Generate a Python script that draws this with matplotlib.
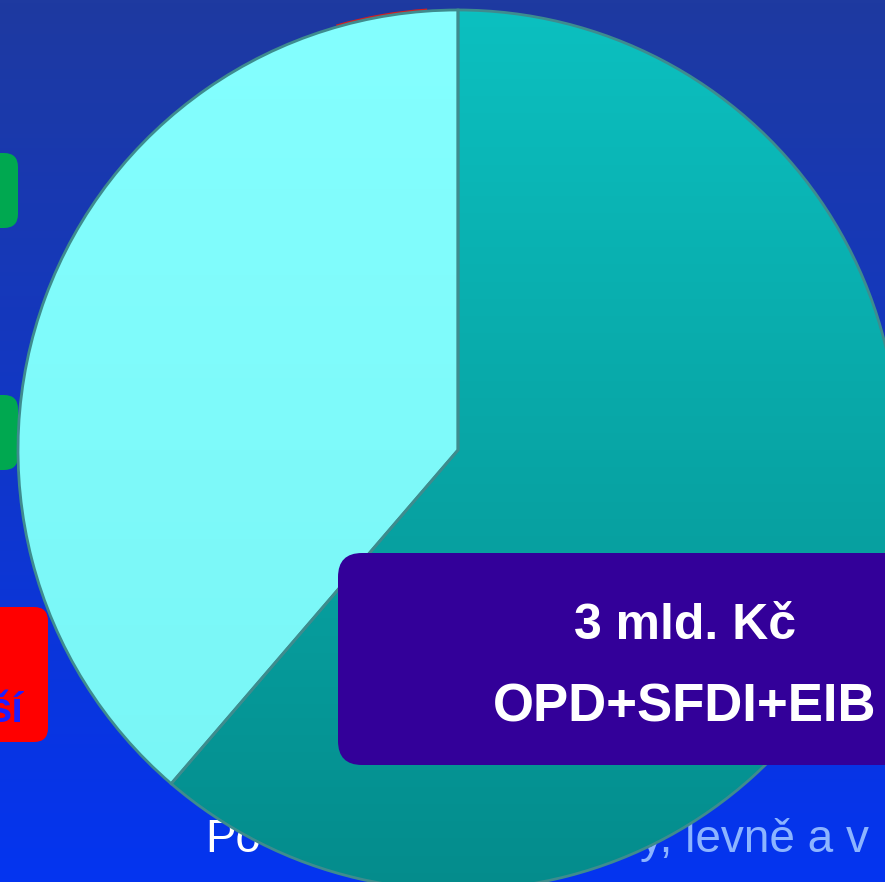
import numpy as np
import matplotlib
matplotlib.use("Agg")
from matplotlib import pyplot as plt
from matplotlib.patches import FancyBboxPatch, Arc

# pie data (shares of total funding)
shares = [61.3, 38.7]
slice_colors = ["#0AB0B0", "#80FFFF"]

label_lines = ["3 mld. Kč", "OPD+SFDI+EIB"]
footer_left = "Po"
footer_right = "y, levně a v"
side_text = "ší"

W, H = 885, 882

fig = plt.figure(figsize=(W / 100, H / 100), dpi=100)
ax = fig.add_axes([0, 0, 1, 1])

# -------------------------------
# BACKGROUND GRADIENT
# -------------------------------
top = np.array([30, 58, 160]) / 255
bottom = np.array([4, 52, 240]) / 255
t = np.linspace(0, 1, 256)[:, None]
grad = top + (bottom - top) * t
ax.imshow(grad[:, None, :].repeat(2, axis=1), extent=(0, W, 0, H),
          aspect="auto", zorder=0, origin="upper")

# -------------------------------
# SIDE BOXES (cut off at left edge)
# -------------------------------
for y0, y1, col in [(153, 228, "#00A850"), (395, 470, "#00A850"), (607, 742, "#FF0000")]:
    x1 = 18 if col != "#FF0000" else 48
    box = FancyBboxPatch((-40, H - y1), x1 + 40, y1 - y0,
                         boxstyle="round,pad=0,rounding_size=14",
                         facecolor=col, edgecolor="none", zorder=1)
    ax.add_patch(box)

ax.text(23, H - 722, side_text, color="#1E1EFF", fontsize=30, fontweight="bold",
        family="Liberation Sans", ha="right", va="baseline", zorder=1.5)

# footer text sits behind the pie
ax.text(205, H - 852, footer_left, color="white", fontsize=33,
        family="Liberation Sans", ha="left", va="baseline", zorder=1.5)
ax.text(869, H - 852, footer_right, color="#8CB4FF", fontsize=33,
        family="Liberation Sans", ha="right", va="baseline", zorder=1.5)

# -------------------------------
# PIE
# -------------------------------
cx, cy, r = 458, H - 450, 440

# thin red rim showing behind the pie near the top
ax.add_patch(Arc((cx, cy), 2 * r + 3, 2 * r + 3, theta1=94, theta2=106,
                 color="#D02020", lw=1.5, zorder=1.8))

wedges, _ = ax.pie(shares, colors=slice_colors, startangle=90, counterclock=False,
                   center=(cx, cy), radius=r,
                   wedgeprops=dict(edgecolor="#3E8C8E", linewidth=2))

for w in wedges:
    w.set_zorder(3)
    w.set_facecolor("none")

# shaded fills clipped to the wedges
ext = (cx - r, cx + r, cy - r, cy + r)
tt = np.linspace(0, 1, 256)[:, None]
dark = np.array([12, 192, 192]) / 255 + (np.array([4, 140, 140]) / 255 - np.array([12, 192, 192]) / 255) * tt
im1 = ax.imshow(dark[:, None, :].repeat(2, axis=1), extent=ext, aspect="auto",
                zorder=2, origin="upper")
im1.set_clip_path(wedges[0])

light = np.array([132, 255, 255]) / 255 + (np.array([120, 245, 245]) / 255 - np.array([132, 255, 255]) / 255) * tt
im2 = ax.imshow(light[:, None, :].repeat(2, axis=1), extent=ext, aspect="auto",
                zorder=2, origin="upper")
im2.set_clip_path(wedges[1])

# -------------------------------
# LABEL BOX
# -------------------------------
label_box = FancyBboxPatch((338, H - 765), 600, 212,
                           boxstyle="round,pad=0,rounding_size=24",
                           facecolor="#330099", edgecolor="none", zorder=4)
ax.add_patch(label_box)

ax.text(685, H - 626, label_lines[0], color="white", fontsize=36, fontweight="bold",
        family="Liberation Sans", ha="center", va="center", zorder=5)
ax.text(685, H - 708, label_lines[1], color="white", fontsize=38, fontweight="bold",
        family="Liberation Sans", ha="center", va="center", zorder=5)

ax.set_xlim(0, W)
ax.set_ylim(0, H)
ax.set_aspect("auto")
ax.axis("off")

fig.savefig("out.png", dpi=100)
